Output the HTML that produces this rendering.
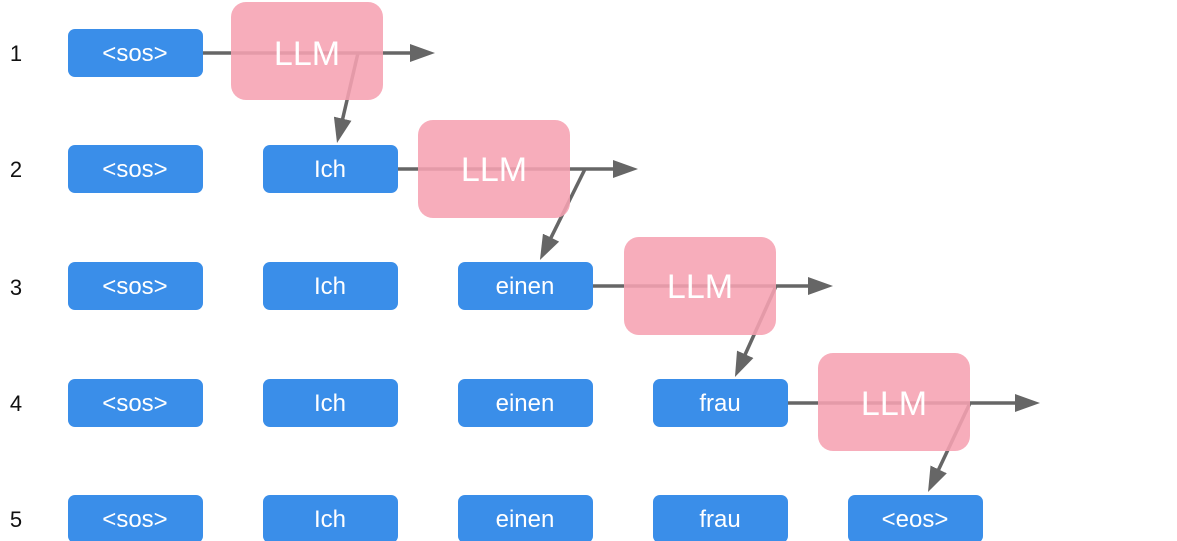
<!DOCTYPE html>
<html><head><meta charset="utf-8"><style>
html,body{margin:0;padding:0;background:#fff;width:1177px;height:541px;overflow:hidden;font-family:"Liberation Sans",sans-serif}
</style></head><body>
<svg width="1177" height="541" xmlns="http://www.w3.org/2000/svg" style="position:absolute;left:0;top:0">
<defs><marker id="a" markerWidth="26" markerHeight="18" refX="3" refY="9" orient="auto" markerUnits="userSpaceOnUse"><path d="M0,0 L25,9 L0,18 Z" fill="#666"/></marker></defs>
<g font-size="22" fill="#111" text-anchor="middle">
<text x="16" y="61">1</text><text x="16" y="177">2</text><text x="16" y="295">3</text><text x="16" y="411">4</text><text x="16" y="527">5</text>
</g>
<g fill="#3a8ee9">
<rect x="68" y="29" width="135" height="48" rx="7"/>
<rect x="68" y="145" width="135" height="48" rx="7"/><rect x="263" y="145" width="135" height="48" rx="7"/>
<rect x="68" y="262" width="135" height="48" rx="7"/><rect x="263" y="262" width="135" height="48" rx="7"/><rect x="458" y="262" width="135" height="48" rx="7"/>
<rect x="68" y="379" width="135" height="48" rx="7"/><rect x="263" y="379" width="135" height="48" rx="7"/><rect x="458" y="379" width="135" height="48" rx="7"/><rect x="653" y="379" width="135" height="48" rx="7"/>
<rect x="68" y="495" width="135" height="48" rx="7"/><rect x="263" y="495" width="135" height="48" rx="7"/><rect x="458" y="495" width="135" height="48" rx="7"/><rect x="653" y="495" width="135" height="48" rx="7"/><rect x="848" y="495" width="135" height="48" rx="7"/>
</g>
<g fill="#fff" font-size="24" text-anchor="middle">
<text x="135" y="61">&lt;sos&gt;</text>
<text x="135" y="177">&lt;sos&gt;</text><text x="330" y="177">Ich</text>
<text x="135" y="294">&lt;sos&gt;</text><text x="330" y="294">Ich</text><text x="525" y="294">einen</text>
<text x="135" y="411">&lt;sos&gt;</text><text x="330" y="411">Ich</text><text x="525" y="411">einen</text><text x="720" y="411">frau</text>
<text x="135" y="527">&lt;sos&gt;</text><text x="330" y="527">Ich</text><text x="525" y="527">einen</text><text x="720" y="527">frau</text><text x="915" y="527">&lt;eos&gt;</text>
</g>
<g stroke="#666" stroke-width="3.5" fill="none" marker-end="url(#a)">
<line x1="203" y1="53" x2="413" y2="53"/><line x1="358" y1="53" x2="342" y2="121.6"/>
<line x1="398" y1="169" x2="616" y2="169"/><line x1="585" y1="169" x2="549.7" y2="240.3"/>
<line x1="593" y1="286" x2="811" y2="286"/><line x1="776" y1="286" x2="744" y2="357"/>
<line x1="788" y1="403" x2="1018" y2="403"/><line x1="970" y1="403" x2="937.4" y2="472.1"/>
</g>
<g fill="#f6a2b2" fill-opacity="0.88">
<rect x="231" y="2" width="152" height="98" rx="15"/>
<rect x="418" y="120" width="152" height="98" rx="15"/>
<rect x="624" y="237" width="152" height="98" rx="15"/>
<rect x="818" y="353" width="152" height="98" rx="15"/>
</g>
<g fill="#fff" font-size="34" text-anchor="middle">
<text x="307" y="65">LLM</text><text x="494" y="181">LLM</text><text x="700" y="298">LLM</text><text x="894" y="415">LLM</text>
</g>
</svg>
</body></html>
